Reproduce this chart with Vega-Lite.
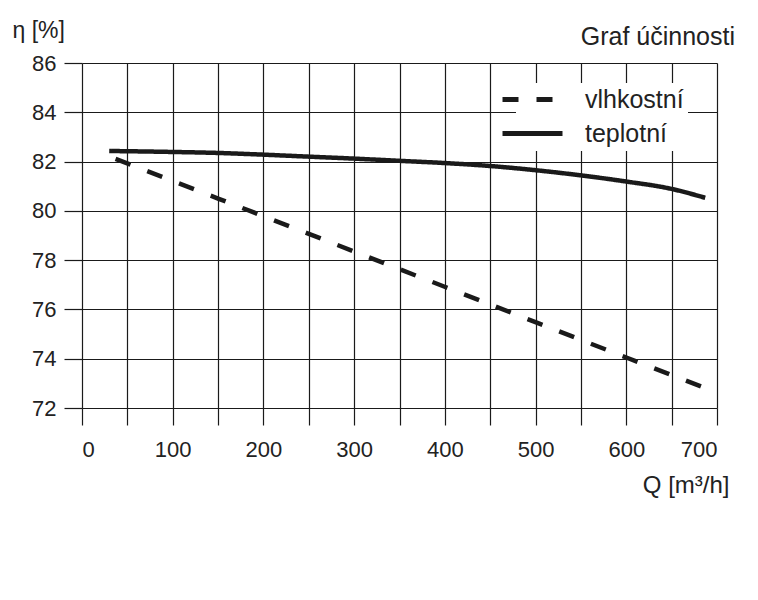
{
  "$schema": "https://vega.github.io/schema/vega-lite/v6.json",
  "width": 635,
  "height": 345,
  "autosize": {"type": "none"},
  "padding": {"left": 82, "top": 63, "right": 41, "bottom": 192},
  "background": "white",
  "title": {
    "text": "Graf účinnosti",
    "anchor": "end",
    "frame": "group",
    "font": "Liberation Sans",
    "fontSize": 25,
    "fontWeight": "normal",
    "color": "#222222",
    "dx": 18,
    "dy": 55,
    "baseline": "alphabetic"
  },
  "data": {
    "values": [
      {"Q": 30, "eta": 82.43, "series": "teplotní"},
      {"Q": 100, "eta": 82.39, "series": "teplotní"},
      {"Q": 150, "eta": 82.35, "series": "teplotní"},
      {"Q": 200, "eta": 82.28, "series": "teplotní"},
      {"Q": 250, "eta": 82.2, "series": "teplotní"},
      {"Q": 300, "eta": 82.12, "series": "teplotní"},
      {"Q": 350, "eta": 82.03, "series": "teplotní"},
      {"Q": 400, "eta": 81.94, "series": "teplotní"},
      {"Q": 450, "eta": 81.82, "series": "teplotní"},
      {"Q": 500, "eta": 81.65, "series": "teplotní"},
      {"Q": 550, "eta": 81.44, "series": "teplotní"},
      {"Q": 600, "eta": 81.19, "series": "teplotní"},
      {"Q": 650, "eta": 80.89, "series": "teplotní"},
      {"Q": 687, "eta": 80.53, "series": "teplotní"},
      {"Q": 37, "eta": 82.11, "series": "vlhkostní"},
      {"Q": 150, "eta": 80.5, "series": "vlhkostní"},
      {"Q": 300, "eta": 78.35, "series": "vlhkostní"},
      {"Q": 450, "eta": 76.2, "series": "vlhkostní"},
      {"Q": 600, "eta": 74.05, "series": "vlhkostní"},
      {"Q": 687, "eta": 72.81, "series": "vlhkostní"}
    ]
  },
  "mark": {"type": "line", "color": "#1a1a1a", "strokeWidth": 4.5, "strokeCap": "butt", "interpolate": "monotone"},
  "encoding": {
    "x": {
      "field": "Q",
      "type": "quantitative",
      "scale": {"domain": [0, 700], "nice": false, "zero": false},
      "axis": {
        "title": "Q [m³/h]",
        "values": [0, 50, 100, 150, 200, 250, 300, 350, 400, 450, 500, 550, 600, 650, 700],
        "labelExpr": "datum.value % 100 === 0 ? datum.label : ''",
        "labelOverlap": false,
        "grid": true,
        "gridColor": "#1a1a1a",
        "gridWidth": 1.2,
        "gridOpacity": 1,
        "domain": false,
        "tickColor": "#1a1a1a",
        "tickWidth": 1.2,
        "tickSize": 17,
        "labelPadding": 14,
        "labelFont": "Liberation Sans",
        "labelFontSize": 22,
        "labelColor": "#222222",
        "titleFont": "Liberation Sans",
        "titleFontSize": 24,
        "titleFontWeight": "normal",
        "titleColor": "#222222",
        "titleX": 647,
        "titleY": 84,
        "titleAlign": "right",
        "titleBaseline": "alphabetic"
      }
    },
    "y": {
      "field": "eta",
      "type": "quantitative",
      "scale": {"domain": [72, 86], "nice": false, "zero": false},
      "axis": {
        "title": "η [%]",
        "values": [72, 74, 76, 78, 80, 82, 84, 86],
        "grid": true,
        "gridColor": "#1a1a1a",
        "gridWidth": 1.2,
        "gridOpacity": 1,
        "domain": false,
        "tickColor": "#1a1a1a",
        "tickWidth": 1.2,
        "tickSize": 18,
        "labelPadding": 8,
        "labelFont": "Liberation Sans",
        "labelFontSize": 22,
        "labelColor": "#222222",
        "titleFont": "Liberation Sans",
        "titleFontSize": 23,
        "titleFontWeight": "normal",
        "titleColor": "#222222",
        "titleAngle": 0,
        "titleX": -70,
        "titleY": -26,
        "titleAlign": "left",
        "titleBaseline": "alphabetic"
      }
    },
    "strokeDash": {
      "field": "series",
      "type": "nominal",
      "scale": {"domain": ["vlhkostní", "teplotní"], "range": [[16, 18], [1, 0]]},
      "legend": {
        "orient": "none",
        "legendX": 434,
        "legendY": 20,
        "title": null,
        "symbolType": "M-3,0H3",
        "symbolSize": 400,
        "symbolStrokeWidth": 5,
        "symbolStrokeColor": "#1a1a1a",
        "labelFont": "Liberation Sans",
        "labelFontSize": 25,
        "labelColor": "#222222",
        "labelOffset": 40,
        "rowPadding": 8,
        "padding": 4,
        "fillColor": "white"
      }
    }
  }
}
